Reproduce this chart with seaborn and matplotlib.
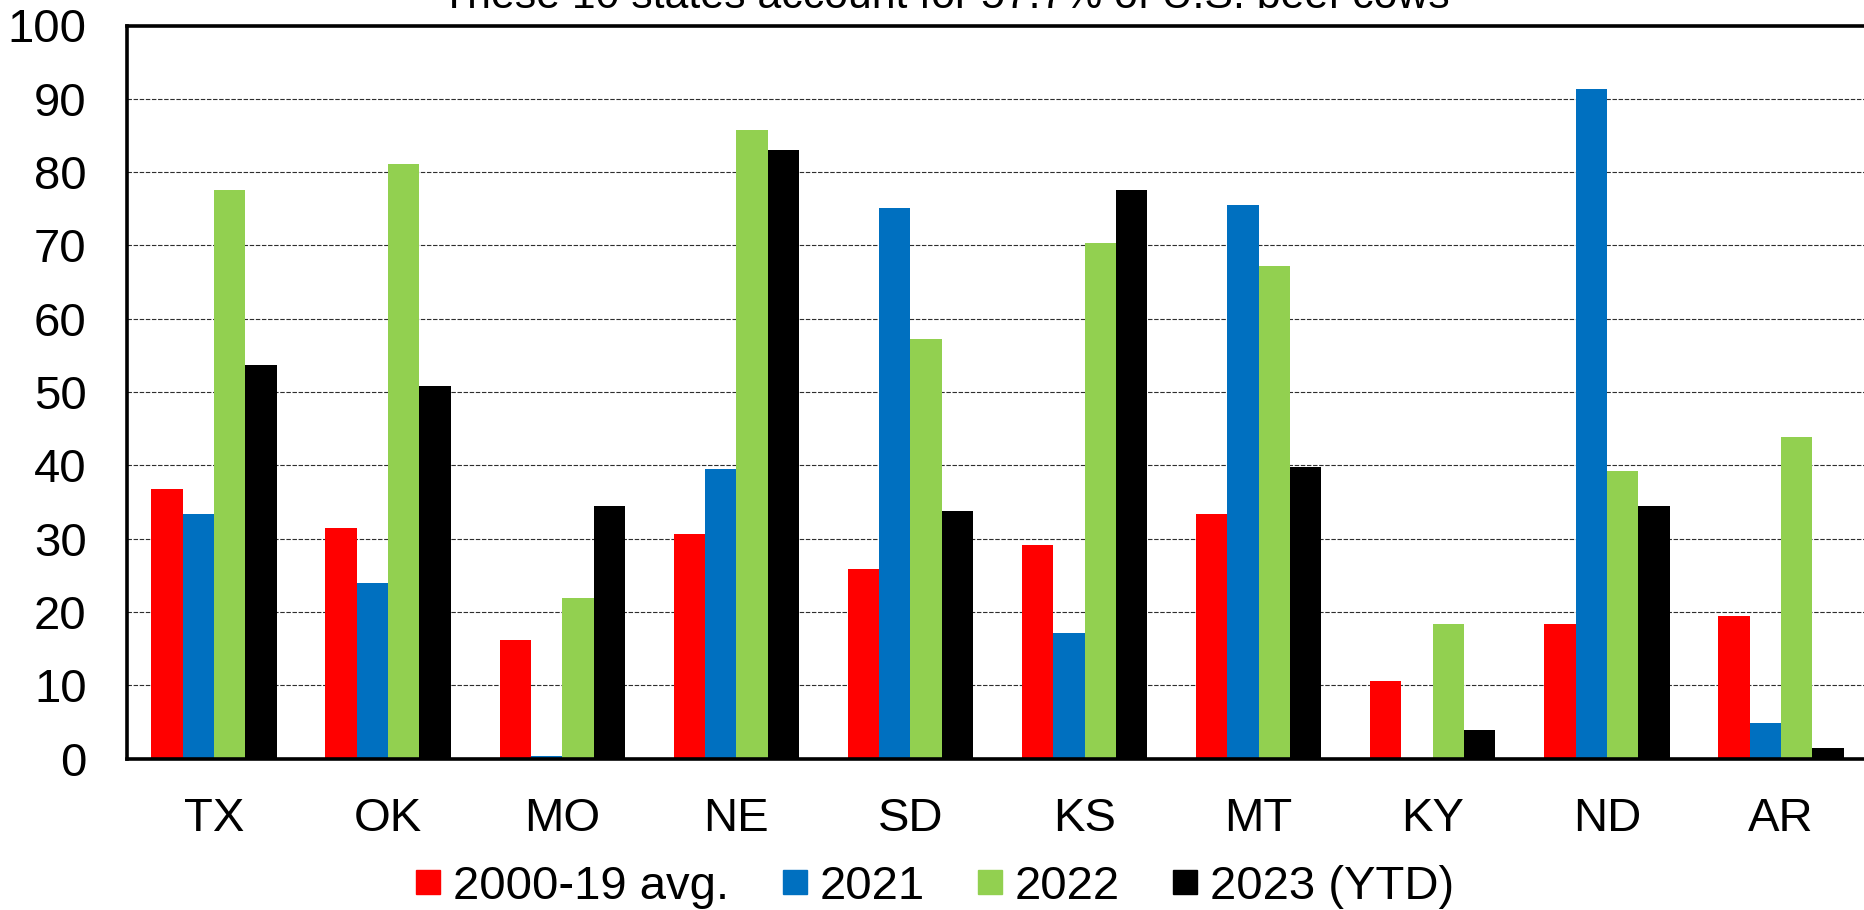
import matplotlib
matplotlib.use("Agg")
import matplotlib.pyplot as plt
from matplotlib.lines import Line2D
import seaborn as sns
import pandas as pd

# Share of each state's beef-cow area in drought (%)
states = ["TX", "OK", "MO", "NE", "SD", "KS", "MT", "KY", "ND", "AR"]
series_names = ["2000-19 avg.", "2021", "2022", "2023 (YTD)"]
avg_2000_19 = [36.8, 31.5, 16.2, 30.6, 25.8, 29.1, 33.4, 10.6, 18.4, 19.5]
yr_2021 = [33.4, 24.0, 0.4, 39.5, 75.1, 17.1, 75.5, 0.0, 91.3, 4.9]
yr_2022 = [77.5, 81.1, 21.9, 85.8, 57.2, 70.3, 67.2, 18.4, 39.2, 43.9]
yr_2023_ytd = [53.7, 50.8, 34.4, 83.0, 33.7, 77.6, 39.8, 3.9, 34.5, 1.4]
colors = ["#FF0000", "#0070C0", "#92D050", "#000000"]
title = "These 10 states account for 57.7% of U.S. beef cows"
y_ticks = [0, 10, 20, 30, 40, 50, 60, 70, 80, 90, 100]

values = [avg_2000_19, yr_2021, yr_2022, yr_2023_ytd]
df = pd.DataFrame(
    [(s, name, v) for name, vals in zip(series_names, values) for s, v in zip(states, vals)],
    columns=["state", "series", "value"],
)

sns.set_theme(style="white")
plt.rcParams["font.family"] = ["Liberation Sans", "DejaVu Sans"]
plt.rcParams["text.color"] = "black"

fig = plt.figure(figsize=(18.64, 9.10), dpi=100)
ax = fig.add_axes([127 / 1864, 1 - 758.5 / 910, (1868 - 127) / 1864, (758.5 - 25.5) / 910])

sns.barplot(
    data=df, x="state", y="value", hue="series",
    hue_order=series_names, order=states, palette=colors,
    width=0.72, gap=0, saturation=1, ax=ax, legend=False, zorder=3,
    linewidth=0, edgecolor="none",
)

ax.set_xlim(-0.5, len(states) - 0.5)
ax.set_ylim(0, 100)
ax.set_yticks(y_ticks)
ax.set_xlabel("")
ax.set_ylabel("")

# dashed horizontal grid
for v in y_ticks[1:-1]:
    ax.axhline(v, color="#2e2e2e", lw=0.8, linestyle=(0, (4, 1.5)), zorder=1)

for side in ["left", "bottom", "top"]:
    ax.spines[side].set_visible(True)
    ax.spines[side].set_color("black")
    ax.spines[side].set_linewidth(2.6)
    ax.spines[side].set_zorder(4)
ax.spines["right"].set_visible(False)

ax.tick_params(axis="y", length=0, pad=29, labelsize=34, labelcolor="black")
ax.tick_params(axis="x", length=0, pad=28, labelsize=34, labelcolor="black")

# title text, partly above the canvas edge
fig.text(0.507, 1 - 7.6 / 910, title, ha="center", va="baseline", fontsize=30.8, color="black")

handles = [Line2D([], [], marker="s", linestyle="none", markersize=17.5,
                  markerfacecolor=c, markeredgecolor=c) for c in colors]
fig.legend(
    handles, series_names, loc="center", bbox_to_anchor=(935 / 1864, 1 - 887 / 910),
    ncol=4, frameon=False, fontsize=34, handlelength=0.53, handletextpad=0.26,
    columnspacing=1.12, borderpad=0, borderaxespad=0, labelcolor="black",
)

fig.savefig("out.png", dpi=100, facecolor="white")
